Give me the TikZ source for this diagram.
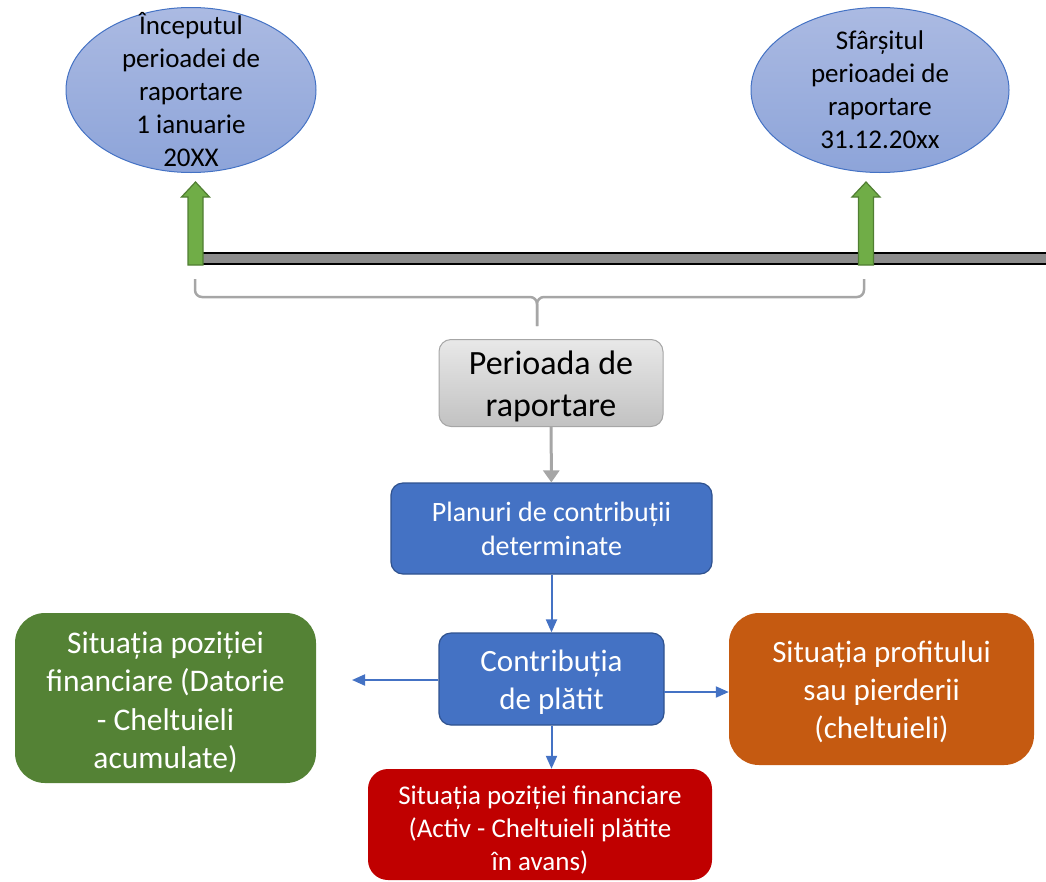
\documentclass[tikz,border=0pt]{standalone}
\usepackage{fontspec}
\setmainfont{Carlito}
\usetikzlibrary{arrows.meta,positioning,shapes.geometric}

\definecolor{ellTop}{HTML}{ABBAE2}
\definecolor{ellBottom}{HTML}{8DA4D9}
\definecolor{accentBlue}{HTML}{4472C4}
\definecolor{darkBlue}{HTML}{2F528F}
\definecolor{arrowGreen}{HTML}{70AD47}
\definecolor{arrowGreenDark}{HTML}{507E32}
\definecolor{barGray}{HTML}{8C8C8C}
\definecolor{braceGray}{HTML}{A6A6A6}
\definecolor{liabGreen}{HTML}{548235}
\definecolor{profitOrange}{HTML}{C55A11}
\definecolor{assetRed}{HTML}{C00000}

% top strut that lowers a multi-line node text a little
\newcommand{\topstrut}[1]{\rule{0pt}{#1}}

\begin{document}
\begin{tikzpicture}[
    x=1pt, y=-1pt,
    >=Triangle,
    ellnode/.style={ellipse, draw=accentBlue, line width=1pt,
      top color=ellTop, bottom color=ellBottom,
      minimum width=250pt, minimum height=165pt, inner sep=0pt},
    elltext/.style={align=center, inner sep=0pt,
      font=\fontsize{27}{33}\selectfont},
    blockup/.style={fill=arrowGreen, draw=arrowGreenDark, line width=1.2pt},
    timeline/.style={fill=barGray, draw=black, line width=1.5pt},
    brace/.style={draw=braceGray, line width=2.5pt, rounded corners=7pt},
    box/.style={rounded corners=12pt, inner sep=0pt, align=center},
    graybox/.style={box, draw=braceGray, line width=1pt,
      top color=gray!18, bottom color=gray!48,
      minimum width=224pt, minimum height=87pt,
      font=\fontsize{34}{42}\selectfont},
    bluebox/.style={box, fill=accentBlue, draw=darkBlue, line width=1.2pt,
      text=white},
    resultbox/.style={box, text=white, rounded corners=30pt},
    grayflow/.style={->, draw=braceGray, line width=3pt,
      >={Triangle[length=12pt, width=16pt]}},
    flow/.style={->, draw=accentBlue, line width=2pt,
      >={Triangle[length=13pt, width=11pt]}},
  ]
  \useasboundingbox (0,0) rectangle (1046,881);
  \clip (0,0) rectangle (1046,881);

  % Reporting period start and end
  \node[ellnode] (startEll) at (191,90) {};
  \node[elltext] (startTxt) at (startEll.center)
    {Începutul\\perioadei de\\raportare\\1 ianuarie\\20XX};
  \node[ellnode, minimum width=258pt] (endEll) at (880,90) {};
  \node[elltext] (endTxt) at (endEll.center)
    {Sfârșitul\\perioadei de\\raportare\\31.12.20xx};

  % Timeline
  \draw[timeline] (196,253) rectangle (1052,264);
  \foreach \cx in {195.5, 866} {
    \draw[blockup] (\cx-7.5,265) -- (\cx-7.5,197) -- (\cx-14,197)
      -- (\cx,182) -- (\cx+14,197) -- (\cx+7.5,197) -- (\cx+7.5,265) -- cycle;
  }

  % Brace under the period
  \coordinate (braceL) at (195,279);
  \coordinate (braceR) at (864,279);
  \coordinate (braceTip) at (537,326);
  \draw[brace] (braceL) |- (braceTip |- 0,297) -- (braceTip);
  \draw[brace] (braceR) |- (braceTip |- 0,297) -- (braceTip);

  % Boxes
  \node[graybox] (period) at (551,383) {\topstrut{31pt}Perioada de\\raportare};
  \node[bluebox, minimum width=321pt, minimum height=91pt,
    font=\fontsize{28}{34}\selectfont] (plans) at (551.5,528.5)
    {Planuri de contribuții\\determinate};
  \node[bluebox, minimum width=225pt, minimum height=92pt,
    font=\fontsize{31}{38}\selectfont] (contrib) at (551.5,679)
    {\topstrut{28pt}Contribuția\\de plătit};
  \node[resultbox, fill=liabGreen, minimum width=301pt, minimum height=170pt,
    font=\fontsize{31.5}{38.5}\selectfont] (liabBox) at (165.5,698)
    {\topstrut{30pt}Situația poziției\\financiare (Datorie\\- Cheltuieli\\acumulate)};
  \node[resultbox, fill=profitOrange, minimum width=305pt, minimum height=152pt,
    font=\fontsize{31}{38}\selectfont] (profitBox) at (881.5,689)
    {\topstrut{28pt}Situația profitului\\sau pierderii\\(cheltuieli)};
  \node[resultbox, rounded corners=20pt, fill=assetRed, minimum width=344pt,
    minimum height=111pt, font=\fontsize{27}{33}\selectfont]
    (assetBox) at (540,824.5)
    {\topstrut{30pt}Situația poziției financiare\\(Activ - Cheltuieli plătite\\în avans)};

  % Edges
  \draw[grayflow] (period) -- (plans);
  \draw[flow] (plans) -- (contrib);
  \coordinate (leftEnd) at (352,680);
  \draw[flow] (contrib.west |- leftEnd) -- (leftEnd);
  \coordinate (rightOut) at (664,692);
  \draw[flow] (rightOut) -- (rightOut -| profitBox.west);
  \draw[flow] (contrib.south) -- (contrib.south |- assetBox.north);
\end{tikzpicture}
\end{document}
